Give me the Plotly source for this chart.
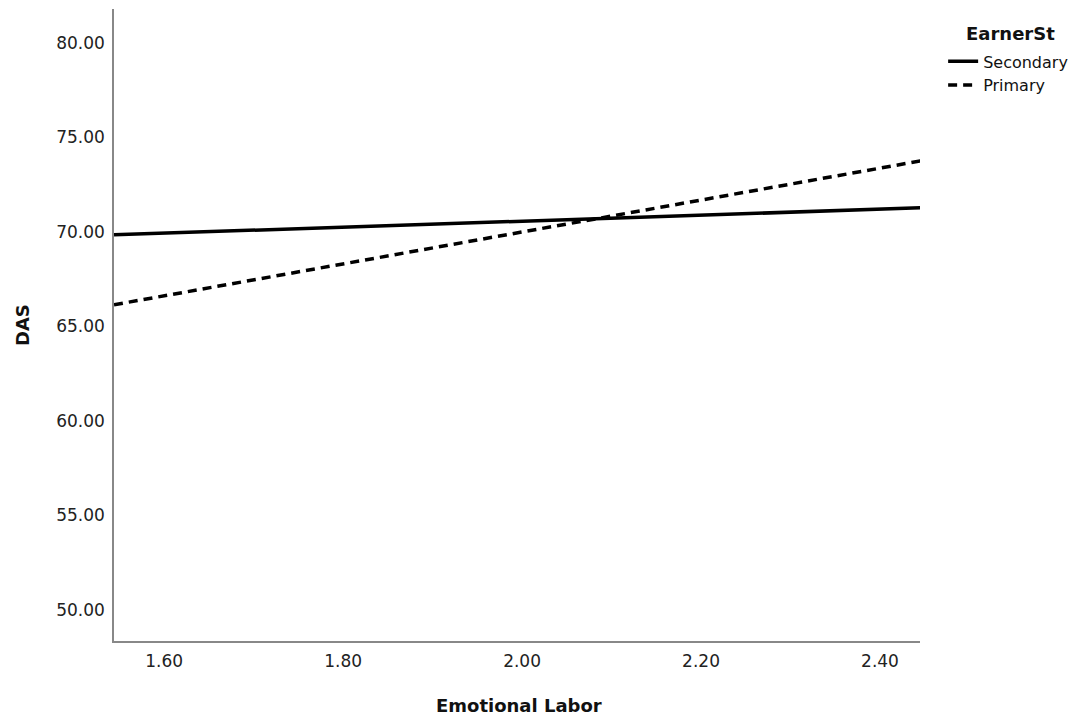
import plotly.graph_objects as go

x_vals = [1.544, 2.445]
secondary = [69.85, 71.28]
primary = [66.15, 73.76]
series_names = ["Secondary", "Primary"]
x_ticks = [1.60, 1.80, 2.00, 2.20, 2.40]
y_ticks = [50, 55, 60, 65, 70, 75, 80]

FONT = "DejaVu Sans, Liberation Sans, sans-serif"

fig = go.Figure()
fig.add_trace(go.Scatter(x=x_vals, y=secondary, mode="lines", name=series_names[0],
                         line=dict(color="black", width=3.5, dash="solid")))
fig.add_trace(go.Scatter(x=x_vals, y=primary, mode="lines", name=series_names[1],
                         line=dict(color="black", width=3.5, dash="9px,6px")))

fig.update_layout(
    width=1071, height=707,
    margin=dict(l=106, r=159, t=1, b=74),
    paper_bgcolor="white", plot_bgcolor="white",
    font=dict(family=FONT, color="#222", size=17),
    showlegend=True,
    legend=dict(
        x=1.0287, y=0.944, xanchor="left", yanchor="top",
        font=dict(family=FONT, size=16, color="#111"),
        tracegroupgap=2, itemwidth=30,
        bgcolor="rgba(0,0,0,0)",
    ),
    annotations=[
        dict(text="<b>EarnerSt</b>", x=1.1117, y=0.962, xref="paper", yref="paper",
             xanchor="center", yanchor="middle", showarrow=False,
             font=dict(family=FONT, size=18, color="#111")),
        dict(text="<b>Emotional Labor</b>", x=0.5025, y=-0.1028, xref="paper", yref="paper",
             xanchor="center", yanchor="middle", showarrow=False,
             font=dict(family=FONT, size=18, color="#111")),
        dict(text="<b>DAS</b>", x=-0.1141, y=0.5, xref="paper", yref="paper",
             xanchor="center", yanchor="middle", showarrow=False, textangle=-90,
             font=dict(family=FONT, size=18, color="#111")),
    ],
)
fig.update_xaxes(
    range=[1.544, 2.4447], tickvals=x_ticks, ticktext=[f"{v:.2f}" for v in x_ticks],
    showgrid=False, zeroline=False, showline=True, linecolor="#888", linewidth=1.5,
    ticks="", ticklabelstandoff=4,
)
fig.update_yaxes(
    range=[48.36, 81.8], tickvals=y_ticks, ticktext=[f"{v:.2f}" for v in y_ticks],
    showgrid=False, zeroline=False, showline=True, linecolor="#888", linewidth=1.5,
    ticks="", ticklabelstandoff=4,
)

fig.write_html("out.html")
